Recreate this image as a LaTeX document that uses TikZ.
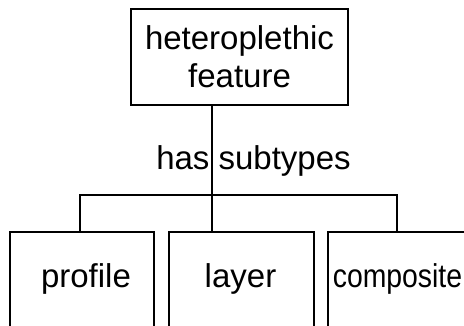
\documentclass[tikz,border=0pt]{standalone}
\usepackage{fontspec}
\setmainfont{Liberation Sans}
\begin{document}
\begin{tikzpicture}[x=1pt,y=-1pt,
  line/.style={line width=1.6pt},
  boxnode/.style={draw,line width=1.6pt,inner sep=0pt,minimum width=#1,minimum height=130pt,anchor=north},
  lbl/.style={font=\fontsize{33}{38}\selectfont,inner sep=0pt,anchor=base}]
\useasboundingbox (0,0) rectangle (464,326);
\clip (0,0) rectangle (464,326);
\node[draw,line width=1.6pt,inner sep=0pt,minimum width=217pt,minimum height=96pt,
  align=center,font=\fontsize{33}{38}\selectfont] (top) at (239.5,57) {heteroplethic\\feature};
\node[boxnode=144pt] (b1) at (82,231) {};
\node[boxnode=145pt] (b2) at (241.5,231) {};
\node[boxnode=145pt] (b3) at (400.5,231) {};
\node[lbl] (t1) at (86,288) {profile};
\node[lbl] (t2) at (240.5,288) {layer};
\node[lbl] (t3) at (397.5,288) {\scalebox{0.86}[1]{composite}};
\node[lbl] (rel) at (253.5,170) {has subtypes};
\coordinate (bar) at (212,195);
\coordinate (barL) at (80,195);
\coordinate (barR) at (397,195);
\draw[line] (top.south -| bar) -- (b2.north -| bar);
\draw[line] (b1.north -| barL) -- (barL) -- (barR) -- (b3.north -| barR);
\end{tikzpicture}
\end{document}
